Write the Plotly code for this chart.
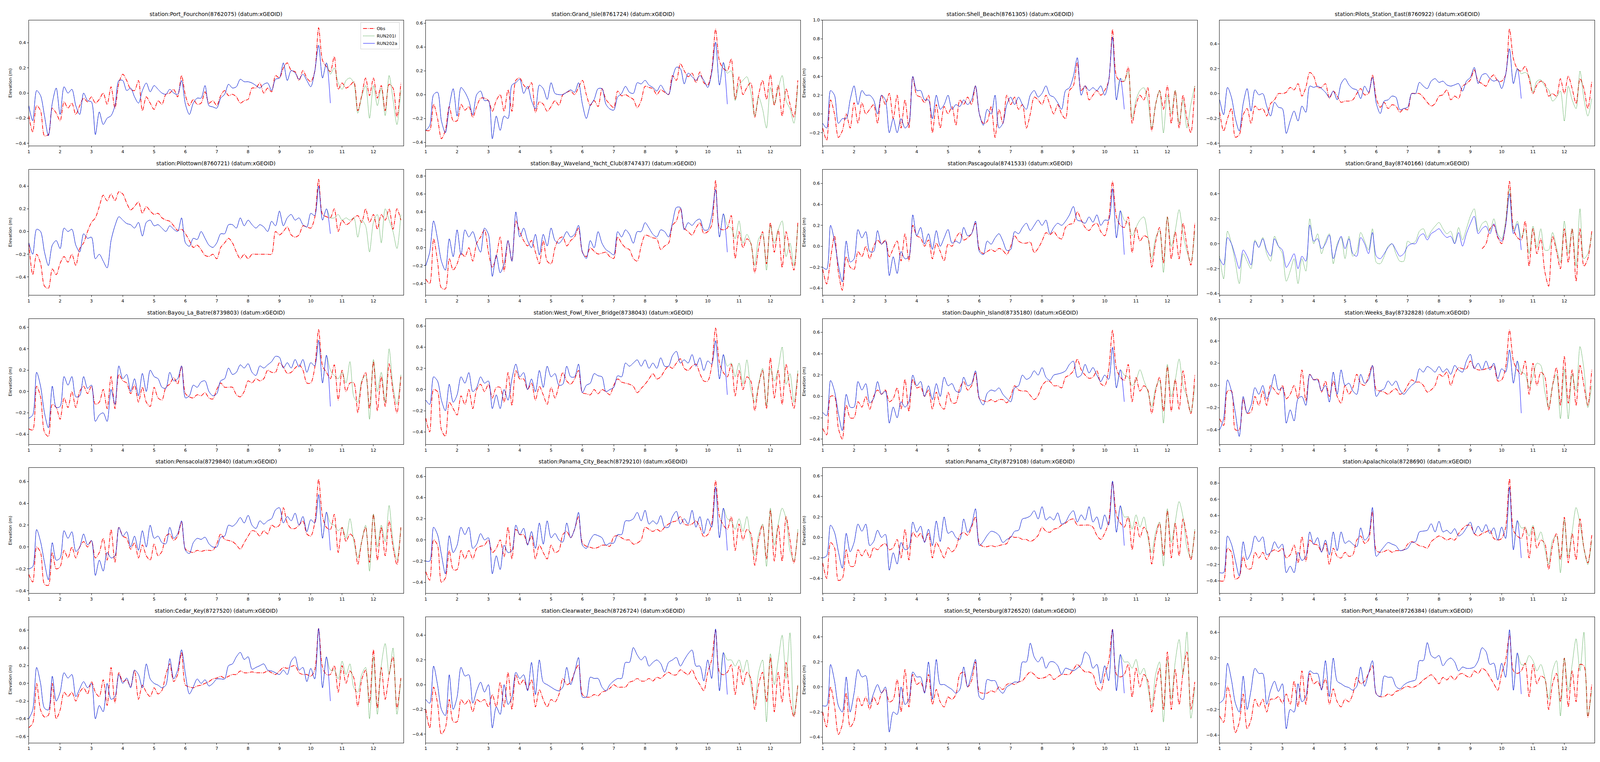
import plotly.graph_objects as go

# Water level per station, in cm, every 3 hours starting at day 1 00:00.
# OBS runs to day 12.875, RUN202a stops at day 10.625, and RUN201l matches
# RUN202a until then. The *_RUN201L_TAIL lists continue it from day 10.625.

PORT_FOURCHON_OBS = [
    -18, -31, -10, -14, -34, -33, -12, -16, -22, -7, -12, -8, -17, -10, -4, -7,
    -3, -8, -5, 0, -9, 5, -12, 8, 15, 10, 3, 2, 10, -14, -3, -8,
    -13, -6, -9, -1, 0, 3, -3, 14, -2, -10, -5, -9, -8, 1, -8, -6,
    -10, -2, 2, -2, -1, -3, -8, -6, -5, 4, 4, 8, 0, 4, 1, 14,
    12, 20, 24, 18, 17, 10, 18, 12, 9, 17, 52, 26, 21, 17, 29, 3,
    8, 4, 6, 9, -14, -2, 12, -2, 12, -4, 6, -14, 7, 4, -19, 8,
]
PORT_FOURCHON_RUN202A = [
    -10, -22, 2, -2, -18, -34, -8, 4, -17, 5, 0, 3, -10, -17, 0, -6,
    -7, -33, -15, -25, -20, -18, -10, 10, 10, 2, 4, -3, -8, 2, 8, 1,
    6, 3, 0, -1, 3, 0, -1, 10, -9, -17, -8, -4, -4, 6, -10, -11,
    -12, -4, -1, 7, 4, 5, 11, 9, 9, 8, 6, 4, 7, 8, 2, 11,
    12, 24, 10, 18, 16, 11, 15, 10, 5, 17, 38, 12, 24, -8,
]
PORT_FOURCHON_RUN201L_TAIL = [15, 20, 8, 3, 10, 12, 8, -16, -3, 6, -20, 6, -10, 4, -18, 14, -5, -25, 2]

GRAND_ISLE_OBS = [
    -30, -30, -8, -20, -37, -30, -10, -22, -22, -8, -13, -10, -19, -10, -3, -3,
    -5, -14, -5, 0, -14, 4, -14, 12, 14, 8, 5, 10, -15, -6, -8, -14,
    -10, -5, -9, 0, 2, 3, 0, 6, 12, 0, -9, -5, -10, 5, -4, -8,
    -11, 3, -1, 0, -2, -4, -11, -5, 7, 6, 5, 0, 4, 2, 0, 16,
    12, 26, 20, 15, 18, 10, 19, 10, 8, 20, 55, 28, 22, 20, 30, -4,
    15, 0, 6, 10, -19, 0, 12, -4, 17, -9, 8, -18, 5, -8, -19, 12,
]
GRAND_ISLE_RUN202A = [
    -30, -26, 0, 2, -22, -32, -10, 5, -18, 6, 2, -5, -17, 0, 3, -5,
    -5, -37, -18, -30, -18, -20, 8, 10, 13, 1, 7, -5, -12, 8, 5, -4,
    10, 1, 0, 0, 2, 4, 2, 10, -8, -20, -9, -4, 5, 5, -8, -12,
    -13, -2, 1, 7, 2, 1, 10, 9, 12, 8, 6, 3, 8, 3, 0, 14,
    23, 22, 9, 18, 15, 12, 16, 12, 6, 18, 44, 8, 27, -8,
]
GRAND_ISLE_RUN201L_TAIL = [18, 20, -5, 8, 12, 15, 2, -18, -2, -12, -28, 6, -8, 5, 16, -5, -12, -24, 8]

SHELL_BEACH_OBS = [
    -15, -28, 15, 0, -25, -18, 0, -15, 12, -10, 12, 0, 5, 10, -10, 20,
    10, 22, -5, 20, -15, 15, -15, 40, 20, 18, 12, 20, -20, 10, -15, 8,
    0, 8, -12, 15, 10, 18, 10, 30, 0, -10, -8, 8, -25, 5, -10, 20,
    10, 18, 5, 10, -15, 0, 18, 15, 10, 20, 10, 0, 10, 0, -5, 25,
    30, 55, 25, 30, 15, 20, 25, 20, 25, 35, 90, 40, 35, 35, 50, -10,
    10, 20, 15, 28, -18, 10, 25, 5, 30, -10, 25, -15, 20, -5, -20, 30,
]
SHELL_BEACH_RUN202A = [
    -10, -15, 25, 20, -10, -5, -5, 15, 30, 10, 25, 20, 20, 15, 0, 20,
    15, -20, -5, -20, -5, -15, -10, 40, 25, 25, 15, 15, -5, 20, 5, 10,
    20, 5, 10, 8, 15, 10, 15, 30, 0, -12, 5, 0, 20, -15, -10, 10,
    18, 10, 18, 10, 5, 20, 25, 18, 22, 30, 20, 18, 12, 5, 25, 28,
    40, 60, 20, 30, 25, 28, 25, 30, 20, 35, 82, 15, 38, 5,
]
SHELL_BEACH_RUN201L_TAIL = [35, 45, -5, 15, 25, 28, 15, -15, 10, 25, -20, 20, 0, 25, -10, 15, -15, 10, 30]

PILOTS_STATION_EAST_OBS = [
    -15, -30, -20, -12, -35, -33, -17, -12, -24, -10, -13, -12, -18, -8, -5, 0,
    0, 1, 5, 3, 8, -2, 5, 17, 14, 5, 5, 8, -4, 2, -2, -7,
    -6, -6, -5, 0, 4, -1, 0, 15, -4, -11, -7, -12, -9, -10, -15, -12,
    -13, 0, 0, 0, -3, -7, -10, -8, -2, -1, 3, -5, -2, -4, 6, 8,
    11, 19, 10, 8, 6, 12, 15, 10, 10, 15, 52, 28, 20, 18, 22, 12,
    0, 7, 10, 8, -2, 0, -2, 12, 0, 14, 4, -8, 12, 4, -12, 10,
]
PILOTS_STATION_EAST_RUN202A = [
    -5, -17, 5, -3, -20, -30, -8, 4, -14, 3, -1, 0, -10, -18, -7, -11,
    -12, -32, -22, -14, -22, -10, -15, 6, 5, 6, 4, 1, -3, 2, -5, 8,
    12, 7, 4, 3, -4, 6, 1, 13, -8, -16, -6, -5, -2, -3, -13, -12,
    -11, 0, 0, 9, 6, 4, 10, 12, 9, 10, 7, 6, 7, 8, 2, 10,
    13, 21, 8, 15, 16, 12, 10, 11, 4, 15, 36, 8, 20, -4,
]
PILOTS_STATION_EAST_RUN201L_TAIL = [16, 17, 14, 1, 10, 11, 6, 3, -6, -3, 2, -22, 6, -5, -12, 18, -4, -18, -4]

PILOTTOWN_OBS = [
    -10, -38, -20, -28, -48, -50, -33, -38, -28, -22, -27, -20, -30, -15, -10, 0,
    8, 12, 22, 32, 27, 33, 27, 35, 33, 25, 19, 22, 26, 16, 22, 18,
    15, 16, 12, 10, 9, 5, 1, 2, -2, -8, -14, -12, -16, -21, -22, -20,
    -24, -14, -10, -6, -10, -18, -24, -20, -24, -20, -20, -20, -20, -20, -20, 0,
    -3, 0, 4, -3, -5, -3, 5, 4, 3, 12, 46, 15, 13, 12, 20, 0,
    10, 6, 8, 12, 14, 8, 20, 8, 15, 2, 15, 10, 20, 2, 20, 10,
]
PILOTTOWN_RUN202A = [
    -10, -20, 2, 0, -18, -30, -12, -8, -15, 3, 0, 2, -12, -18, -2, -6,
    -5, -24, -20, -26, -32, -8, 5, 13, 10, 7, 6, 3, 8, -4, 8, 10,
    5, 6, 3, 0, 5, 2, 0, 12, -10, -13, -6, -7, 0, -6, -12, -14,
    -10, -2, -2, 6, 6, 3, 12, 5, 10, 6, 3, 6, 4, 0, 9, 5,
    18, 5, 12, 15, 10, 12, 6, 4, 16, 14, 40, 10, 20, -2,
]
PILOTTOWN_RUN201L_TAIL = [12, 12, 15, 10, 12, 10, 12, -5, 10, 5, -18, 8, 15, -10, 20, 10, 0, -15, 15]

BAY_WAVELAND_OBS = [
    -35, -40, 10, -15, -45, -46, -12, -25, -18, -6, -10, 0, -15, 5, 12, 20,
    -5, -22, -10, 12, -26, 8, -15, 30, 18, 8, 2, 8, -5, -18, 8, -15,
    -18, 0, 10, 12, 2, 8, 12, 22, -5, -10, 0, -4, -7, -6, -5, -10,
    -12, 12, 5, 0, -2, -12, -15, 2, 14, 13, 11, 10, -2, 2, 5, 25,
    30, 44, 22, 18, 14, 22, 28, 16, 18, 25, 75, 22, 20, 22, 36, -12,
    18, 0, 10, 5, -28, 0, 18, -18, 28, -5, 20, -22, 18, -5, -25, 28,
]
BAY_WAVELAND_RUN202A = [
    -20, -5, 30, 10, -15, -25, 10, -10, 20, -8, 20, 12, 18, 5, -5, 22,
    15, -32, -8, -28, -18, 8, -15, 40, 12, 22, 8, 0, 15, -8, 15, 2,
    22, 8, 5, 10, 18, 12, 15, 25, -5, -12, 8, 0, 18, 5, -2, -5,
    -8, 18, 12, 20, 15, 5, 18, 18, 28, 22, 15, 12, 20, 18, 12, 28,
    45, 45, 20, 28, 25, 30, 32, 20, 20, 35, 65, 12, 38, -5,
]
BAY_WAVELAND_RUN201L_TAIL = [25, 22, 10, 30, 5, 15, 5, -20, 10, 15, -25, 25, 5, 20, 30, -10, 5, -20, 25]

PASCAGOULA_OBS = [
    -22, -36, -12, 10, -25, -42, -10, -20, -22, -5, -10, 0, -12, 0, 6, 2,
    6, -10, -2, 5, -14, 12, -14, 20, 10, 8, 0, 6, -12, 3, -5, -14,
    2, 0, 8, 13, 6, 8, 12, 22, -3, -7, -5, -3, -5, -2, -4, -8,
    0, 10, 5, 3, 3, 4, -6, -2, 5, 13, 11, 14, 9, 7, 18, 21,
    22, 33, 25, 18, 15, 20, 22, 14, 10, 25, 62, 28, 20, 18, 28, -6,
    18, 5, 10, 8, -20, 4, 18, -16, 28, -12, 14, -12, 22, 0, -18, 22,
]
PASCAGOULA_RUN202A = [
    -20, -22, 20, 5, -18, -34, 5, -15, -12, 16, 8, 14, -5, -5, 15, 2,
    5, -28, -10, -26, -5, -12, -10, 30, 10, 18, 2, 12, -3, 15, 0, 8,
    16, 3, 5, 3, 18, 10, 12, 24, -5, -8, 5, 2, 8, 12, 5, -4,
    -3, 14, 12, 18, 22, 15, 20, 25, 20, 25, 12, 18, 22, 20, 24, 30,
    38, 25, 24, 22, 28, 23, 30, 20, 25, 25, 55, 8, 34, -8,
]
PASCAGOULA_RUN201L_TAIL = [25, 22, 10, 18, 25, 28, 10, -12, 8, 15, -25, 28, 0, 15, 35, 12, -5, -15, 15]

# no observations at Grand_Bay before day 9.375
GRAND_BAY_OBS = [None] * 67 + [
    -4, 0, 12, 15, 5,
    0, 15, 50, 12, 5, 3, 18, -18,
    12, -8, 4, -22, -34, 6, -6, -20, 12, -15, 12, -30, 12, -18, -12, 10,
]
GRAND_BAY_RUN202A = [
    -12, -17, 5, 0, -10, -20, -5, -10, -17, 2, -3, 4, -5, -10, 4, -2,
    -5, -19, -14, -8, -20, -10, -14, 15, 2, 4, -4, 0, 7, -12, -2, 6,
    -4, 4, -8, -10, 5, 0, -8, 9, -10, -12, -8, -3, 0, -5, -10, -8,
    -2, 0, 0, 6, 8, 3, 8, 10, 12, 8, 5, 6, 0, 9, -2, 8,
    16, 22, 8, 12, 14, 8, 16, 6, 2, 14, 40, 8, 16, -5,
]
# at Grand_Bay the two runs differ over the whole period
GRAND_BAY_RUN201L = [
    -10, -28, 10, 0, -15, -32, -8, -14, -20, 3, -3, 5, -8, -14, 6, -2,
    -8, -30, -22, -12, -32, -12, -22, 20, 0, 8, -8, 2, 8, -16, 0, 5,
    -12, 6, -10, -6, 9, 2, -5, 12, -15, -16, -10, -2, 0, -8, -14, -14,
    2, 0, 2, 10, 12, 5, 10, 14, 17, 12, 8, 10, 0, 13, 3, 12,
    22, 28, 10, 16, 18, 10, 20, 8, 4, 18, 44, 10, 18, 5, 12, -8,
    14, -3, 12, -5, -5, 9, -3, -15, 18, -8, 12, -18, 28, -12, -8, 8,
]

BAYOU_LA_BATRE_OBS = [
    -35, -36, 5, -5, -38, -42, -12, -15, -26, -6, -15, 0, -15, 0, 5, -2,
    5, -12, -10, 2, -16, 14, -16, 16, 10, 8, -2, 6, -10, 4, -10, -14,
    4, -6, -8, 4, 7, 13, 7, 24, -2, -5, -6, -3, -4, -1, -6, -7,
    2, 8, 4, 4, 4, -3, -5, 0, 10, 8, 12, 10, 12, 20, 18, 18,
    27, 23, 17, 18, 22, 25, 20, 8, 8, 22, 58, 24, 18, 12, 25, -8,
    20, 0, 8, 8, -20, 8, 18, -16, 28, -18, 14, -14, 26, 0, -20, 14,
]
BAYOU_LA_BATRE_RUN202A = [
    -25, -22, 18, 5, -20, -34, 5, -15, -14, 14, 6, 14, -5, -4, 14, 3,
    6, -28, -22, -20, -28, 2, -12, 24, 12, 16, 0, 12, -4, 17, 0, 20,
    14, 12, 4, 3, 18, 10, 12, 24, -6, -4, 6, 4, 9, 10, 0, -4,
    -2, 10, 12, 22, 16, 18, 25, 22, 26, 18, 15, 24, 22, 25, 28, 33,
    32, 22, 27, 22, 30, 23, 30, 18, 27, 24, 48, 8, 34, -14,
]
BAYOU_LA_BATRE_RUN201L_TAIL = [20, 15, 12, 18, 8, 28, -5, -10, 10, 15, -26, 30, 0, 18, -10, 40, 5, -12, 16]

WEST_FOWL_OBS = [
    -27, -40, 0, -2, -38, -44, -12, -18, -24, -6, -14, 0, -18, 0, 5, -2,
    5, -8, 2, 2, -12, 16, -15, 18, 10, 10, 0, 6, -10, 3, -5, -14,
    2, -8, 4, 16, 8, 5, 10, 18, -3, -4, -5, 0, -4, 0, -2, -5,
    4, 10, 7, 6, 5, 3, -3, 1, 5, 10, 15, 10, 12, 18, 22, 20,
    25, 29, 20, 18, 22, 24, 15, 8, 8, 22, 58, 25, 16, 12, 24, -6,
    18, 0, 12, 8, -20, 4, 18, -18, 30, -8, 18, -14, 24, 0, -18, 15,
]
WEST_FOWL_RUN202A = [
    -10, -14, 12, 8, -10, -20, 5, -12, -5, 12, 6, 16, -2, 2, 12, 6,
    8, -18, -5, -18, 0, -10, 10, 24, 12, 16, 0, 10, -2, 18, 2, 22,
    12, 15, 4, 5, 22, 12, 12, 24, -3, 4, 6, 15, 13, 12, -2, 0,
    2, 13, 12, 25, 22, 25, 28, 22, 28, 20, 25, 20, 30, 22, 22, 32,
    36, 25, 28, 25, 33, 22, 30, 18, 27, 24, 46, 10, 33, -5,
]
WEST_FOWL_RUN201L_TAIL = [22, 25, 12, 25, 5, 28, 0, -12, 5, 20, -15, 20, 8, 20, 40, 5, 15, -12, 18]

DAUPHIN_ISLAND_OBS = [
    -30, -36, 0, 0, -30, -40, -8, -20, -20, -5, -10, 0, -12, 0, 6, 2,
    6, -5, -2, 8, -12, 16, -14, 16, 8, 9, 0, 6, -12, 4, -8, -12,
    4, -6, -6, 8, 14, 6, 10, 22, -2, -4, -5, -3, -5, -3, -3, -6,
    0, 10, 6, 5, 5, 1, -3, 1, 10, 14, 14, 10, 10, 8, 18, 20,
    24, 35, 25, 20, 17, 18, 24, 12, 10, 25, 62, 26, 18, 15, 30, -5,
    18, 5, 10, 6, -16, 5, 18, -14, 28, -14, 16, -12, 24, 0, -16, 20,
]
DAUPHIN_ISLAND_RUN202A = [
    -15, -18, 15, 5, -16, -32, 2, -10, -10, 14, 6, 12, -6, -2, 14, 2,
    5, -25, -10, -20, -5, -10, -5, 20, 10, 14, 0, 10, -3, 12, 0, 18,
    10, 12, 5, 4, 18, 10, 12, 24, -2, -8, 3, 6, 5, 8, 2, -2,
    -5, 8, 10, 20, 16, 18, 24, 20, 27, 18, 15, 20, 21, 22, 24, 30,
    33, 18, 20, 30, 22, 27, 20, 14, 20, 16, 46, 8, 25, -5,
]
DAUPHIN_ISLAND_RUN201L_TAIL = [20, 18, 10, 15, 25, 15, 5, -10, 8, 15, -25, 30, 0, 15, 35, 10, 0, -15, 10]

WEEKS_BAY_OBS = [
    -30, -36, -5, -5, -40, -40, -12, -25, -24, -10, -18, -5, -18, 0, -4, -8,
    0, -12, -8, 0, -12, 14, -14, 10, 5, 6, -6, 4, -10, 4, -10, -16,
    0, -8, -2, 10, 2, 0, 8, 18, -4, -5, -6, -8, -5, -3, -8, -6,
    0, 5, 3, 3, 0, -6, -4, 0, 10, 8, 12, 0, 10, 16, 15, 15,
    22, 16, 14, 14, 15, 16, 18, 4, 5, 16, 50, 22, 14, 10, 22, -8,
    20, 0, 12, 8, -22, 0, 16, -18, 26, -16, 14, -18, 18, 0, -18, 14,
]
WEEKS_BAY_RUN202A = [
    -40, -30, 5, -5, -25, -46, -10, -25, -18, -2, -8, 0, -12, -4, 10, -4,
    -2, -34, -22, -32, -12, -10, -18, 10, 5, 5, -5, 0, -15, 12, -8, 14,
    0, 2, -5, -8, 10, 2, 5, 18, -10, -5, -3, 4, 0, 4, -4, -8,
    -4, 0, 3, 15, 12, 17, 15, 12, 17, 12, 15, 10, 18, 14, 12, 22,
    28, 15, 20, 14, 22, 14, 20, 6, 15, 12, 32, 2, 22, -25,
]
WEEKS_BAY_RUN201L_TAIL = [12, 10, -2, 8, 20, 18, -5, -20, 0, 10, -30, 15, -30, 10, -5, 35, 15, -20, 0]

PENSACOLA_OBS = [
    -25, -32, 0, -5, -34, -35, -5, -20, -18, -3, -10, 0, -10, 0, 5, 0,
    6, -10, -5, 8, -12, 16, -14, 18, 10, 8, -2, 4, -10, 2, -8, -12,
    3, -8, -4, 10, 12, 6, 10, 23, -2, -4, -5, -3, -4, -3, -3, -3,
    3, 12, 7, 6, 5, 2, -2, 4, 10, 15, 14, 10, 15, 12, 20, 18,
    20, 36, 22, 17, 17, 20, 24, 12, 10, 22, 62, 28, 18, 16, 30, -5,
    18, 5, 12, 8, -16, 5, 18, -14, 30, -12, 18, -8, 24, 0, -16, 18,
]
PENSACOLA_RUN202A = [
    -20, -18, 16, 5, -14, -30, 4, -12, -10, 15, 8, 14, -4, 0, 12, 2,
    6, -26, -12, -22, -5, -10, -8, 18, 10, 14, 0, 10, -3, 15, 0, 20,
    8, 10, 4, 3, 18, 8, 12, 24, -3, -6, 4, 8, 7, 9, 3, 0,
    0, 9, 10, 20, 19, 22, 27, 22, 29, 20, 17, 24, 21, 24, 26, 34,
    36, 22, 28, 24, 31, 20, 28, 14, 25, 22, 48, 8, 32, -3,
]
PENSACOLA_RUN201L_TAIL = [22, 20, 15, 18, 8, 26, 5, -10, 5, 20, -22, 30, 0, 20, 5, 38, 5, -12, 18]

PANAMA_CITY_BEACH_OBS = [
    -30, -38, 0, -5, -40, -36, -10, -28, -28, -10, -18, -10, -18, -8, -6, -5,
    0, -12, -8, 0, -16, 12, -18, 10, 5, 5, -4, 4, -18, -5, -12, -18,
    -5, -12, -10, 5, 8, 2, 10, 22, -3, -6, -7, -8, -7, -5, -5, -6,
    3, 4, 2, 0, 0, -4, -3, 0, 12, 10, 8, 10, 8, 12, 15, 17,
    18, 22, 15, 14, 15, 18, 12, 3, 5, 15, 56, 22, 14, 10, 22, -10,
    15, 0, 10, 6, -24, 0, 14, -18, 28, -20, 14, -20, 22, 0, -22, 8,
]
PANAMA_CITY_BEACH_RUN202A = [
    -20, -20, 12, 5, -14, -32, 4, -12, -5, 12, 5, 12, -8, -4, 6, 0,
    2, -32, -15, -28, -5, -12, -10, 14, 5, 11, -5, 8, -8, 16, -4, 18,
    2, 6, 0, -2, 16, 2, 10, 26, -5, -8, 0, 5, 4, 2, -5, -3,
    -3, 5, 5, 18, 18, 20, 26, 18, 28, 15, 18, 15, 23, 12, 12, 22,
    27, 15, 20, 15, 28, 12, 22, 6, 20, 12, 50, 2, 30, -10,
]
PANAMA_CITY_BEACH_RUN201L_TAIL = [20, 18, 10, 20, 8, 22, 0, -15, 5, 15, -25, 30, -5, 15, 30, 20, -10, -20, 10]

PANAMA_CITY_OBS = [
    -25, -40, -5, -10, -42, -40, -12, -28, -28, -12, -18, -12, -20, -10, -12, -8,
    -6, -12, -10, -2, -20, 8, -22, 5, 0, 4, -4, 4, -20, -5, -12, -20,
    -10, -14, -10, 2, 5, 2, 10, 20, -6, -9, -9, -8, -9, -8, -7, -6,
    1, 0, 0, -2, -2, -4, -2, 2, 10, 6, 5, 8, 9, 12, 14, 17,
    18, 12, 12, 12, 12, 10, 2, -2, 4, 15, 54, 22, 14, 10, 20, -12,
    15, 0, 10, 4, -26, 0, 14, -18, 26, -20, 14, -18, 18, 0, -22, 6,
]
PANAMA_CITY_RUN202A = [
    -20, -18, 12, 5, -14, -30, 4, -14, -5, 13, 6, 13, -8, -4, 7, 0,
    3, -32, -15, -26, -5, -12, -10, 15, 5, 11, -5, 8, -8, 16, -4, 20,
    4, 6, 0, -2, 18, 5, 12, 28, -8, -4, 2, 6, 5, 2, -5, -2,
    0, 6, 7, 18, 19, 21, 26, 18, 30, 17, 20, 17, 24, 13, 15, 22,
    26, 15, 22, 17, 30, 15, 20, 8, 22, 12, 55, 5, 31, -8,
]
PANAMA_CITY_RUN201L_TAIL = [20, 20, 8, 22, 10, 20, 0, -15, 5, 15, -28, 28, -5, 15, 35, 20, -10, -20, 8]

APALACHICOLA_OBS = [
    -40, -40, 0, -5, -38, -35, -10, -25, -25, -5, -12, -5, -14, -5, -2, -4,
    0, -12, -8, 4, -18, 14, -16, 10, 5, 4, -4, 6, -20, 0, -10, -12,
    -5, -10, -8, 10, 15, 6, 10, 45, -3, -5, -4, -2, -5, -3, -3, -2,
    5, 8, 6, 3, 2, 0, 8, 12, 15, 13, 10, 12, 10, 18, 24, 28,
    28, 18, 15, 18, 20, 22, 12, 10, 12, 25, 85, 22, 15, 12, 26, -12,
    26, 0, 10, 6, -26, 4, 18, -14, 38, -18, 18, -14, 36, 0, -18, 16,
]
APALACHICOLA_RUN202A = [
    -30, -30, 15, 5, -15, -34, 8, -14, -5, 15, 8, 14, -8, -5, 8, 0,
    5, -30, -22, -30, -5, -15, -10, 20, 5, 13, -5, 10, -8, 20, -3, 20,
    6, 9, 5, 2, 25, 10, 15, 50, -10, -4, 2, 7, 5, 3, -3, -2,
    0, 7, 8, 20, 21, 22, 30, 20, 33, 20, 22, 18, 24, 15, 18, 25,
    32, 18, 27, 20, 29, 18, 25, 10, 26, 12, 75, -2, 34, -12,
]
APALACHICOLA_RUN201L_TAIL = [25, 25, 15, 28, 10, 20, 0, -20, 10, 15, -30, 35, -10, 20, 50, 30, 0, -20, 10]

CEDAR_KEY_OBS = [
    -50, -45, 0, -30, -38, -36, 0, -40, -30, -10, -15, -10, -20, -10, -5, -12,
    2, -10, -15, 4, -25, 18, -22, 12, 2, 4, -4, 15, -18, -2, -10, -15,
    -5, -12, -8, 10, 22, 2, 10, 35, -2, -4, -5, -3, -2, 0, 2, 5,
    6, 8, 6, 8, 10, 10, 14, 12, 12, 13, 12, 12, 12, 14, 12, 10,
    14, 18, 17, 19, 20, 12, 10, 10, 8, 15, 62, 18, 10, 10, 20, -10,
    20, 0, 14, 6, -26, 4, 15, -22, 38, -28, 18, -18, 10, 30, -28, 6,
]
CEDAR_KEY_RUN202A = [
    -40, -30, 18, 0, -28, -30, 8, -20, -10, 12, 6, 10, -15, -6, 2, -5,
    0, -40, -25, -32, 0, -18, -15, 10, 0, 6, -5, 15, 10, -5, 22, 5,
    0, -2, -5, -2, 28, 5, 15, 38, 10, -12, -4, 5, 0, 4, -3, 0,
    5, 5, 5, 20, 22, 30, 35, 27, 30, 16, 18, 20, 22, 15, 14, 12,
    10, 15, 10, 25, 30, 15, 18, 2, 17, 5, 62, -5, 30, -20,
]
CEDAR_KEY_RUN201L_TAIL = [15, 15, 5, 25, 10, 22, -5, -10, 10, 18, -40, 30, -35, 20, 45, 10, 40, -35, 5]

CLEARWATER_BEACH_OBS = [
    -20, -35, -2, -15, -40, -35, -12, -30, -30, -12, -16, -12, -22, -12, -14, -12,
    -18, -8, -18, 2, -18, 10, -20, 8, 0, 4, -4, 4, -18, -4, -12, -18,
    -12, -14, -8, 5, 0, 2, 10, 16, -8, -10, -10, -8, -9, -6, -5, -3,
    0, -2, -2, -2, 2, 3, 5, 3, 3, 5, 3, 6, 5, 8, 10, 8,
    8, 12, 10, 8, 12, 5, 0, -5, 10, 20, 44, 10, 8, 10, 16, -8,
    15, 0, 10, 5, -20, 0, 10, -14, 22, -22, 10, -14, 18, -12, -26, 0,
]
CLEARWATER_BEACH_RUN202A = [
    -12, -15, 15, 0, -20, -25, 8, -20, -10, 14, 7, 8, -15, -5, 2, -6,
    0, -35, -18, -24, 0, -16, -10, 10, 5, 8, -5, 18, -8, 20, 2, 0,
    -2, -4, -5, -2, 14, 0, 10, 22, -10, -10, 6, 5, 5, -2, -5, 0,
    3, 5, 5, 18, 18, 30, 24, 20, 23, 15, 18, 20, 17, 10, 18, 20,
    22, 15, 20, 25, 28, 15, 15, 3, 20, 5, 45, -5, 26, -8,
]
CLEARWATER_BEACH_RUN201L_TAIL = [20, 20, 15, 20, 10, 20, 0, -15, 10, 20, -30, 25, 0, 20, 40, 5, 42, -25, 0]

ST_PETERSBURG_OBS = [
    -20, -32, 0, -15, -38, -30, -5, -32, -27, -8, -15, -8, -18, -8, -14, -5,
    -2, -12, -10, 6, -20, 14, -16, 10, 2, 4, -4, 10, -14, -2, -12, -16,
    -8, -10, -6, 10, 12, 0, 5, 20, -4, -5, -5, -3, -4, 0, -2, 2,
    3, 2, 4, 5, 9, 12, 10, 7, 7, 8, 10, 6, 8, 10, 10, 10,
    14, 18, 15, 12, 12, 10, 0, -3, 10, 20, 46, 10, 8, 10, 18, -8,
    15, 0, 10, 5, -20, 0, 15, -18, 28, -18, 14, -14, 12, 28, -18, 4,
]
ST_PETERSBURG_RUN202A = [
    -15, -15, 18, 5, -15, -20, 8, -20, -5, 14, 8, 9, -14, -5, 2, -5,
    0, -36, -20, -22, 0, -14, -10, 12, 8, 8, -5, 20, -10, 22, 2, 2,
    0, -2, -5, -2, 16, 0, 10, 22, -8, -10, 6, 5, 5, -2, -5, 0,
    2, 4, 4, 20, 20, 35, 24, 20, 24, 15, 20, 20, 17, 10, 15, 14,
    13, 15, 18, 28, 25, 15, 18, 3, 17, 5, 46, -3, 26, -5,
]
ST_PETERSBURG_RUN201L_TAIL = [20, 20, 15, 22, 10, 15, 0, -15, 10, 20, -28, 22, -10, 20, 38, 10, 44, -25, 0]

PORT_MANATEE_OBS = [
    -25, -30, -2, -15, -38, -30, -8, -35, -28, -12, -18, -12, -22, -12, -12, -10,
    -15, -8, -16, 2, -18, 10, -16, 8, 0, 2, -4, 4, -16, -4, -14, -18,
    -12, -14, -8, 5, 0, 2, 8, 14, -8, -10, -10, -8, -9, -6, -5, -3,
    -2, -3, -2, 0, 3, 5, 7, 4, 0, 5, 3, 6, 3, 7, 8, 6,
    5, 10, 8, 12, 10, 5, 0, -5, 8, 18, 38, 10, 8, 10, 16, -10,
    15, 0, 6, 4, -20, 0, 8, -14, 20, -18, 10, -14, 15, 14, -26, 0,
]
PORT_MANATEE_RUN202A = [
    -15, -12, 16, 3, -15, -22, 6, -20, -5, 12, 8, 8, -16, -5, 2, -6,
    0, -35, -20, -22, 0, -14, -10, 10, 8, 8, -5, 18, -10, 20, 2, 0,
    -2, -3, -5, -2, 13, -2, 8, 18, -8, -10, 6, 5, 5, -2, -4, -1,
    1, 2, 3, 18, 18, 32, 22, 20, 22, 14, 18, 20, 17, 10, 13, 12,
    12, 13, 18, 28, 25, 15, 16, 3, 16, 5, 42, -5, 24, -8,
]
PORT_MANATEE_RUN201L_TAIL = [15, 15, 22, 18, 10, 15, 5, -12, 10, 18, -25, 20, -5, 15, 35, 10, 40, -25, -5]

# RUN201l and RUN202a share their first 77 samples
SHARED = 77

STATIONS = [
    ("Port_Fourchon(8762075)", PORT_FOURCHON_OBS, PORT_FOURCHON_RUN202A,
     PORT_FOURCHON_RUN202A[:SHARED] + PORT_FOURCHON_RUN201L_TAIL),
    ("Grand_Isle(8761724)", GRAND_ISLE_OBS, GRAND_ISLE_RUN202A,
     GRAND_ISLE_RUN202A[:SHARED] + GRAND_ISLE_RUN201L_TAIL),
    ("Shell_Beach(8761305)", SHELL_BEACH_OBS, SHELL_BEACH_RUN202A,
     SHELL_BEACH_RUN202A[:SHARED] + SHELL_BEACH_RUN201L_TAIL),
    ("Pilots_Station_East(8760922)", PILOTS_STATION_EAST_OBS, PILOTS_STATION_EAST_RUN202A,
     PILOTS_STATION_EAST_RUN202A[:SHARED] + PILOTS_STATION_EAST_RUN201L_TAIL),
    ("Pilottown(8760721)", PILOTTOWN_OBS, PILOTTOWN_RUN202A,
     PILOTTOWN_RUN202A[:SHARED] + PILOTTOWN_RUN201L_TAIL),
    ("Bay_Waveland_Yacht_Club(8747437)", BAY_WAVELAND_OBS, BAY_WAVELAND_RUN202A,
     BAY_WAVELAND_RUN202A[:SHARED] + BAY_WAVELAND_RUN201L_TAIL),
    ("Pascagoula(8741533)", PASCAGOULA_OBS, PASCAGOULA_RUN202A,
     PASCAGOULA_RUN202A[:SHARED] + PASCAGOULA_RUN201L_TAIL),
    ("Grand_Bay(8740166)", GRAND_BAY_OBS, GRAND_BAY_RUN202A, GRAND_BAY_RUN201L),
    ("Bayou_La_Batre(8739803)", BAYOU_LA_BATRE_OBS, BAYOU_LA_BATRE_RUN202A,
     BAYOU_LA_BATRE_RUN202A[:SHARED] + BAYOU_LA_BATRE_RUN201L_TAIL),
    ("West_Fowl_River_Bridge(8738043)", WEST_FOWL_OBS, WEST_FOWL_RUN202A,
     WEST_FOWL_RUN202A[:SHARED] + WEST_FOWL_RUN201L_TAIL),
    ("Dauphin_Island(8735180)", DAUPHIN_ISLAND_OBS, DAUPHIN_ISLAND_RUN202A,
     DAUPHIN_ISLAND_RUN202A[:SHARED] + DAUPHIN_ISLAND_RUN201L_TAIL),
    ("Weeks_Bay(8732828)", WEEKS_BAY_OBS, WEEKS_BAY_RUN202A,
     WEEKS_BAY_RUN202A[:SHARED] + WEEKS_BAY_RUN201L_TAIL),
    ("Pensacola(8729840)", PENSACOLA_OBS, PENSACOLA_RUN202A,
     PENSACOLA_RUN202A[:SHARED] + PENSACOLA_RUN201L_TAIL),
    ("Panama_City_Beach(8729210)", PANAMA_CITY_BEACH_OBS, PANAMA_CITY_BEACH_RUN202A,
     PANAMA_CITY_BEACH_RUN202A[:SHARED] + PANAMA_CITY_BEACH_RUN201L_TAIL),
    ("Panama_City(8729108)", PANAMA_CITY_OBS, PANAMA_CITY_RUN202A,
     PANAMA_CITY_RUN202A[:SHARED] + PANAMA_CITY_RUN201L_TAIL),
    ("Apalachicola(8728690)", APALACHICOLA_OBS, APALACHICOLA_RUN202A,
     APALACHICOLA_RUN202A[:SHARED] + APALACHICOLA_RUN201L_TAIL),
    ("Cedar_Key(8727520)", CEDAR_KEY_OBS, CEDAR_KEY_RUN202A,
     CEDAR_KEY_RUN202A[:SHARED] + CEDAR_KEY_RUN201L_TAIL),
    ("Clearwater_Beach(8726724)", CLEARWATER_BEACH_OBS, CLEARWATER_BEACH_RUN202A,
     CLEARWATER_BEACH_RUN202A[:SHARED] + CLEARWATER_BEACH_RUN201L_TAIL),
    ("St_Petersburg(8726520)", ST_PETERSBURG_OBS, ST_PETERSBURG_RUN202A,
     ST_PETERSBURG_RUN202A[:SHARED] + ST_PETERSBURG_RUN201L_TAIL),
    ("Port_Manatee(8726384)", PORT_MANATEE_OBS, PORT_MANATEE_RUN202A,
     PORT_MANATEE_RUN202A[:SHARED] + PORT_MANATEE_RUN201L_TAIL),
]

# y limits of each panel (m), as drawn
Y_RANGES = [
    [-0.42, 0.58], [-0.43, 0.625], [-0.34, 1.0], [-0.42, 0.59],
    [-0.56, 0.546], [-0.53, 0.875], [-0.467, 0.734], [-0.412, 0.595],
    [-0.496, 0.682], [-0.518, 0.668], [-0.45, 0.728], [-0.532, 0.601],
    [-0.424, 0.727], [-0.505, 0.683], [-0.546, 0.681], [-0.554, 0.989],
    [-0.67, 0.751], [-0.469, 0.548], [-0.445, 0.56], [-0.458, 0.52],
]
DAY_TICKS = list(range(1, 13))


def days(values):
    # samples are 3-hourly, starting at day 1
    return [1 + k / 8 for k in range(len(values))]


def metres(values):
    return [None if v is None else v / 100 for v in values]


# panel placement measured on the 5150 x 1950 original, used as fractions
W, H = 5150, 1950
COL_LEFT = [78, 1362, 2646, 3930]
ROW_TOP = [38, 425, 812, 1198, 1585]
AX_W, AX_H = 1212, 326
FONT = "DejaVu Sans"
TICK_SIZE = 11.2
TITLE_SIZE = 13.8

axis_style = dict(
    showline=True, linecolor="black", linewidth=1, mirror=True,
    ticks="outside", ticklen=4, tickwidth=1, tickcolor="black",
    showgrid=False, zeroline=False,
    tickfont=dict(family=FONT, size=TICK_SIZE, color="black"),
)

fig = go.Figure()
annotations = []

for i, (station, obs, run202a, run201l) in enumerate(STATIONS):
    row, col = divmod(i, 4)
    n = "" if i == 0 else str(i + 1)
    xa, ya = "x" + n, "y" + n

    fig.add_trace(go.Scatter(
        x=days(obs), y=metres(obs), name="Obs", xaxis=xa, yaxis=ya,
        mode="lines", showlegend=(i == 0), connectgaps=False,
        line=dict(color="#ff0000", width=1.7, dash="10px,2.5px,1.6px,2.5px", shape="spline", smoothing=0.8),
    ))
    fig.add_trace(go.Scatter(
        x=days(run201l), y=metres(run201l), name="RUN201l", xaxis=xa, yaxis=ya,
        mode="lines", showlegend=(i == 0),
        line=dict(color="#008000", width=0.85, dash="2.5px,1.2px", shape="spline", smoothing=0.8),
    ))
    fig.add_trace(go.Scatter(
        x=days(run202a), y=metres(run202a), name="RUN202a", xaxis=xa, yaxis=ya,
        mode="lines", showlegend=(i == 0),
        line=dict(color="#0000ff", width=1.0, shape="spline", smoothing=0.8),
    ))

    x0 = COL_LEFT[col] / W
    x1 = (COL_LEFT[col] + AX_W) / W
    y1 = 1 - ROW_TOP[row] / H
    y0 = 1 - (ROW_TOP[row] + AX_H) / H

    yaxis = dict(domain=[y0, y1], anchor=xa, range=Y_RANGES[i],
                 tick0=0, dtick=0.2, tickformat=".1f", **axis_style)
    if col in (0, 2):
        yaxis["title"] = dict(text="Elevation (m)", standoff=6,
                              font=dict(family=FONT, size=TICK_SIZE, color="black"))
    fig.update_layout(**{
        "xaxis" + n: dict(domain=[x0, x1], anchor=ya, range=[1, 12.96],
                          tickvals=DAY_TICKS, **axis_style),
        "yaxis" + n: yaxis,
    })

    annotations.append(dict(
        text=f"station:{station} (datum:xGEOID)",
        x=(x0 + x1) / 2, y=y1 + 6 / H, xref="paper", yref="paper",
        xanchor="center", yanchor="bottom", showarrow=False,
        font=dict(family=FONT, size=TITLE_SIZE, color="black"),
    ))

# no fixed size: the figure fills the browser window
fig.update_layout(
    autosize=True,
    margin=dict(l=0, r=0, t=0, b=0),
    paper_bgcolor="white", plot_bgcolor="white",
    font=dict(family=FONT, color="black"),
    annotations=annotations,
    legend=dict(
        x=(COL_LEFT[0] + AX_W - 12) / W, y=1 - (ROW_TOP[0] + 6) / H,
        xanchor="right", yanchor="top",
        bgcolor="rgba(255,255,255,0.8)", bordercolor="#cccccc", borderwidth=1,
        font=dict(family=FONT, size=TICK_SIZE, color="black"),
    ),
)

fig.write_html("out.html")
